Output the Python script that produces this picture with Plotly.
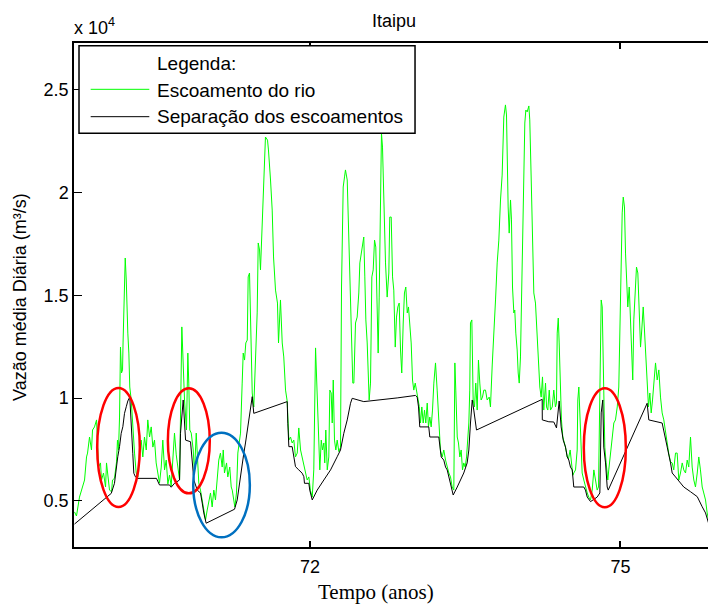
import plotly.graph_objects as go

# Daily flow at Itaipu (m³/s) and the baseflow separation, time in years
flow_t = [
    69.725, 69.744, 69.773, 69.793, 69.822, 69.841, 69.851, 69.870, 69.889, 69.899,
    69.918, 69.938, 69.947, 69.957, 69.976, 69.986, 70.005, 70.025, 70.034, 70.044,
    70.063, 70.083, 70.092, 70.111, 70.131, 70.140, 70.150, 70.160, 70.169, 70.179,
    70.189, 70.194, 70.198, 70.208, 70.215, 70.225, 70.234, 70.240, 70.250, 70.259,
    70.273, 70.288, 70.305, 70.321, 70.337, 70.353, 70.369, 70.385, 70.401, 70.418,
    70.433, 70.450, 70.466, 70.482, 70.498, 70.514, 70.530, 70.546, 70.563, 70.578,
    70.595, 70.611, 70.627, 70.643, 70.659, 70.675, 70.691, 70.708, 70.723, 70.740,
    70.762, 70.775, 70.788, 70.807, 70.820, 70.829, 70.839, 70.853, 70.872, 70.884,
    70.901, 70.911, 70.926, 70.942, 70.959, 70.974, 70.991, 71.007, 71.023, 71.039,
    71.055, 71.071, 71.087, 71.104, 71.119, 71.135, 71.152, 71.162, 71.174, 71.194,
    71.206, 71.225, 71.239, 71.249, 71.264, 71.274, 71.290, 71.303, 71.316, 71.329,
    71.345, 71.355, 71.368, 71.380, 71.394, 71.403, 71.416, 71.426, 71.435, 71.442,
    71.457, 71.474, 71.490, 71.500, 71.513, 71.522, 71.539, 71.551, 71.570, 71.590,
    71.599, 71.619, 71.635, 71.648, 71.667, 71.686, 71.696, 71.715, 71.732, 71.747,
    71.764, 71.780, 71.796, 71.812, 71.828, 71.844, 71.860, 71.877, 71.892, 71.909,
    71.925, 71.941, 71.957, 71.973, 71.989, 72.005, 72.022, 72.037, 72.054, 72.063,
    72.076, 72.085, 72.095, 72.109, 72.121, 72.134, 72.143, 72.153, 72.167, 72.182,
    72.192, 72.205, 72.215, 72.225, 72.237, 72.250, 72.263, 72.279, 72.295, 72.305,
    72.321, 72.334, 72.343, 72.360, 72.370, 72.382, 72.392, 72.401, 72.414, 72.424,
    72.440, 72.456, 72.472, 72.482, 72.495, 72.508, 72.520, 72.530, 72.540, 72.553,
    72.563, 72.572, 72.585, 72.598, 72.611, 72.624, 72.636, 72.650, 72.659, 72.669,
    72.682, 72.691, 72.701, 72.714, 72.730, 72.746, 72.762, 72.771, 72.785, 72.798,
    72.810, 72.824, 72.836, 72.849, 72.862, 72.875, 72.887, 72.901, 72.913, 72.926,
    72.940, 72.952, 72.965, 72.978, 72.991, 73.003, 73.017, 73.029, 73.042, 73.056,
    73.068, 73.081, 73.094, 73.107, 73.119, 73.133, 73.145, 73.158, 73.171, 73.184,
    73.197, 73.213, 73.229, 73.245, 73.261, 73.278, 73.293, 73.310, 73.326, 73.342,
    73.358, 73.374, 73.390, 73.400, 73.409, 73.423, 73.435, 73.448, 73.461, 73.474,
    73.486, 73.500, 73.513, 73.519, 73.535, 73.544, 73.551, 73.564, 73.577, 73.590,
    73.602, 73.616, 73.628, 73.641, 73.654, 73.667, 73.680, 73.696, 73.712, 73.732,
    73.744, 73.761, 73.776, 73.793, 73.809, 73.825, 73.841, 73.857, 73.873, 73.889,
    73.899, 73.906, 73.915, 73.925, 73.938, 73.947, 73.957, 73.970, 73.979, 73.989,
    74.002, 74.012, 74.022, 74.034, 74.044, 74.054, 74.066, 74.076, 74.086, 74.099,
    74.115, 74.124, 74.138, 74.150, 74.163, 74.179, 74.196, 74.208, 74.221, 74.234,
    74.247, 74.259, 74.276, 74.286, 74.298, 74.312, 74.324, 74.341, 74.356, 74.372,
    74.382, 74.389, 74.399, 74.408, 74.421, 74.430, 74.443, 74.453, 74.469, 74.486,
    74.498, 74.514, 74.527, 74.540, 74.549, 74.566, 74.582, 74.588, 74.598, 74.614,
    74.630, 74.646, 74.662, 74.679, 74.694, 74.711, 74.727, 74.743, 74.759, 74.775,
    74.788, 74.801, 74.814, 74.824, 74.836, 74.849, 74.862, 74.878, 74.887, 74.904,
    74.920, 74.936, 74.952, 74.969, 74.984, 74.994, 75.007, 75.017, 75.027, 75.039,
    75.049, 75.058, 75.071, 75.085, 75.097, 75.110, 75.119, 75.129, 75.143, 75.155,
    75.168, 75.181, 75.194, 75.206, 75.220, 75.232, 75.245, 75.258, 75.271, 75.284,
    75.297, 75.310, 75.322, 75.339, 75.355, 75.371, 75.387, 75.403, 75.419, 75.435,
    75.452, 75.467, 75.484, 75.500, 75.515, 75.532, 75.548, 75.564, 75.580, 75.597,
    75.612, 75.629, 75.645, 75.660, 75.677, 75.693, 75.709, 75.725, 75.742, 75.757,
    75.773, 75.790, 75.805, 75.822, 75.838, 75.851,
]
flow_q = [
    4470, 4270, 5190, 5530, 6020, 7140, 7330, 8110, 7480, 8450,
    8600, 8940, 7620, 6650, 6850, 6020, 6360, 5680, 6850, 6360,
    5530, 5450, 6020, 6100, 6900, 7960, 7480, 9080, 12480, 11220,
    11370, 12680, 13650, 15600, 16810, 15740, 13460, 13160, 12190, 10540,
    9910, 8600, 7330, 6360, 6170, 7330, 7960, 7140, 8110, 7480,
    8940, 8110, 8600, 7620, 7960, 6850, 6360, 5870, 6650, 7960,
    6510, 6990, 5830, 6260, 5730, 6990, 8300, 7240, 6510, 6020,
    13460, 11220, 9910, 8450, 12190, 10730, 8450, 8300, 7480, 6360,
    8300, 7330, 5870, 5530, 5050, 4560, 4080, 4560, 5050, 5390,
    4710, 5530, 5050, 6360, 6990, 7330, 6650, 7480, 6360, 6850,
    6170, 6650, 5680, 5530, 5050, 4710, 5390, 7330, 7820, 8300,
    10730, 12190, 11850, 12680, 12820, 15890, 16080, 14140, 12680, 10250,
    9570, 12190, 14140, 17540, 17200, 16230, 18660, 20600, 22690, 22540,
    22060, 20600, 19140, 16860, 15250, 14620, 12680, 14770, 12680, 12000,
    10390, 9850, 7960, 8110, 7820, 7960, 7140, 7330, 8550, 7480,
    7140, 6650, 6360, 6020, 6170, 5500, 5190, 6510, 12440, 11220,
    9280, 7960, 6510, 7960, 7480, 7820, 6850, 8450, 6510, 7140,
    10390, 10250, 8790, 10880, 7960, 7480, 7960, 7400, 7600, 15400,
    20260, 20750, 21090, 20600, 18800, 17340, 14280, 13650, 10730, 10730,
    13650, 13940, 15110, 16570, 17050, 17340, 17830, 15890, 13800, 12680,
    11510, 9910, 10730, 15890, 16230, 17680, 17340, 13650, 12190, 14910,
    21230, 22880, 22200, 19630, 16570, 14910, 16080, 18800, 18800, 15890,
    15250, 12480, 13940, 14430, 14620, 12340, 11220, 13650, 15110, 15400,
    14140, 14430, 13310, 12680, 10880, 10390, 10730, 10390, 10050, 9600,
    8790, 9570, 8790, 9420, 8790, 9760, 8600, 9080, 8600, 9420,
    10730, 11710, 10390, 8790, 7450, 7140, 7480, 6990, 6650, 6360,
    6170, 5680, 5530, 11710, 10390, 8110, 7820, 7140, 7480, 6510,
    6850, 6650, 7140, 7480, 8790, 10390, 13650, 13800, 9910, 9570,
    10730, 9420, 11850, 10730, 9910, 10050, 10390, 10390, 9910, 10050,
    9570, 11610, 12820, 14770, 16570, 17680, 19630, 20840, 23660, 24250,
    23760, 20600, 19290, 18020, 19630, 18660, 15400, 14140, 14280, 13160,
    12340, 11220, 10730, 12000, 14910, 16860, 20940, 23370, 24000, 23910,
    24200, 23520, 20600, 17340, 15110, 14620, 12820, 11510, 10540, 10050,
    11030, 9420, 10730, 9570, 9420, 10390, 9420, 9570, 10390, 9570,
    9760, 13160, 13890, 12680, 9420, 8940, 8110, 7960, 7620, 7140,
    7050, 7480, 6650, 6250, 6360, 6510, 7480, 9910, 10540, 8450,
    6360, 6020, 5680, 5390, 5190, 5050, 5530, 6510, 6020, 5530,
    5680, 11220, 14770, 14430, 10880, 7620, 6850, 6020, 6510, 7330,
    7960, 8790, 8940, 9570, 10540, 13310, 15740, 19000, 19770, 19290,
    17050, 15740, 14430, 15400, 13800, 12480, 10880, 13800, 14910, 16370,
    16080, 14140, 12480, 13310, 14430, 13310, 12000, 10880, 9570, 10250,
    9280, 9910, 10880, 11710, 10880, 11370, 10050, 9280, 8940, 8300,
    7620, 7300, 6900, 6850, 6510, 7330, 7330, 6020, 6360, 6850,
    6510, 6360, 6990, 6650, 8110, 6650, 6020, 5680, 6360, 7140,
    6510, 5680, 5390, 5050, 4420, 4080,
]

base_t = [
    69.725, 70.080, 70.111, 70.128, 70.143, 70.160, 70.176, 70.192, 70.208, 70.225,
    70.240, 70.259, 70.269, 70.279, 70.288, 70.298, 70.314, 70.331, 70.517, 70.546,
    70.643, 70.659, 70.691, 70.740, 70.749, 70.775, 70.798, 70.846, 70.862, 70.878,
    70.911, 70.942, 70.959, 70.974, 70.997, 71.271, 71.297, 71.312, 71.329, 71.345,
    71.361, 71.377, 71.394, 71.409, 71.426, 71.442, 71.457, 71.780, 71.786, 71.790,
    71.796, 71.828, 71.844, 71.860, 71.892, 71.925, 71.941, 71.947, 71.989, 71.998,
    72.022, 72.070, 72.134, 72.199, 72.263, 72.295, 72.327, 72.360, 72.392, 72.408,
    72.520, 72.682, 72.843, 73.020, 73.036, 73.049, 73.061, 73.148, 73.158, 73.245,
    73.255, 73.268, 73.293, 73.310, 73.326, 73.342, 73.358, 73.374, 73.384, 73.423,
    73.455, 73.486, 73.519, 73.535, 73.551, 73.568, 73.583, 73.600, 73.609, 74.244,
    74.245, 74.308, 74.356, 74.382, 74.408, 74.427, 74.447, 74.469, 74.486, 74.501,
    74.517, 74.534, 74.549, 74.646, 74.662, 74.679, 74.711, 74.775, 74.801, 74.814,
    74.829, 74.839, 74.856, 74.872, 74.882, 75.258, 75.274, 75.403, 75.419, 75.452,
    75.484, 75.500, 75.532, 75.580, 75.612, 75.677, 75.742, 75.790, 75.822, 75.851,
]
base_q = [
    3880, 5370, 5860, 6670, 7150, 7640, 8290, 8610, 9260, 9580,
    9860, 10050, 9260, 8290, 7320, 6350, 6170, 6100, 6100, 5780,
    5780, 5670, 5860, 6020, 8290, 9910, 7960, 7880, 6850, 6020,
    5530, 5390, 4900, 4420, 3920, 4600, 5050, 5630, 6180, 6850,
    7330, 7820, 8450, 8940, 9420, 10070, 9260, 9830, 8780, 7960,
    7640, 7640, 7150, 6670, 6510, 6350, 6180, 5860, 5860, 5530,
    5050, 5530, 6020, 6510, 7150, 7480, 8290, 8940, 9750, 9990,
    9830, 9910, 10010, 10130, 10050, 9570, 8600, 8600, 8110, 8110,
    7620, 7140, 6990, 6650, 6510, 6170, 5870, 5390, 5290, 5680,
    6020, 6360, 6850, 7480, 8790, 9910, 9420, 8600, 8450, 9940,
    8940, 8850, 8840, 8550, 9860, 8600, 7960, 7620, 7140, 6990,
    6650, 6510, 5680, 5680, 5530, 5190, 4970, 5190, 5390, 9280,
    9910, 7620, 6850, 5680, 5530, 9750, 8940, 8790, 8450, 7620,
    6850, 6360, 6170, 5870, 5680, 5450, 5210, 4720, 4420, 3930,
]

# Axis ticks
x_ticks = [72, 75]
x_tick_labels = ["72", "75"]
y_ticks = [5000, 10000, 15000, 20000, 25000]
y_tick_labels = ["0.5", "1", "1.5", "2", "2.5"]

# Highlighted periods: (t0, t1, q0, q1, colour)
highlights = [
    (69.944, 70.356, 4708, 10492, "#ff0000"),
    (70.627, 71.032, 5374, 10477, "#ff0000"),
    (70.872, 71.419, 3236, 8319, "#0070c0"),
    (74.646, 75.052, 4694, 10477, "#ff0000"),
]

FONT = "Liberation Sans, Arial, sans-serif"

fig = go.Figure()
fig.add_trace(go.Scatter(x=flow_t, y=flow_q, mode="lines",
                         line=dict(color="#00ff00", width=1),
                         name="Escoamento do rio", showlegend=False))
fig.add_trace(go.Scatter(x=base_t, y=base_q, mode="lines",
                         line=dict(color="#000000", width=1),
                         name="Separação dos escoamentos", showlegend=False))

shapes = []
for t0, t1, q0, q1, col in highlights:
    shapes.append(dict(type="circle", xref="x", yref="y", x0=t0, x1=t1, y0=q0, y1=q1,
                       line=dict(color=col, width=2.5), layer="above"))

# Legend box drawn by hand
shapes.append(dict(type="rect", xref="paper", yref="paper", x0=0.0079, x1=0.5379,
                   y0=0.8208, y1=0.9946, line=dict(color="black", width=1.5),
                   fillcolor="white", layer="above"))
shapes.append(dict(type="line", xref="paper", yref="paper", x0=0.0263, x1=0.1188,
                   y0=0.9081, y1=0.9081, line=dict(color="#00ff00", width=1), layer="above"))
shapes.append(dict(type="line", xref="paper", yref="paper", x0=0.0263, x1=0.1188,
                   y0=0.8538, y1=0.8538, line=dict(color="#000000", width=1), layer="above"))

legend_font = dict(family=FONT, size=19, color="black")
annotations = [
    dict(text="Legenda:", xref="paper", yref="paper", x=0.1285, y=0.9603,
         xanchor="left", yanchor="middle", showarrow=False, font=legend_font),
    dict(text="Escoamento do rio", xref="paper", yref="paper", x=0.1285, y=0.9067,
         xanchor="left", yanchor="middle", showarrow=False, font=legend_font),
    dict(text="Separação dos escoamentos", xref="paper", yref="paper", x=0.1285, y=0.8532,
         xanchor="left", yanchor="middle", showarrow=False, font=legend_font),
    dict(text="Itaipu", xref="paper", yref="paper", x=0.504, y=1.0437,
         xanchor="center", yanchor="middle", showarrow=False,
         font=dict(family=FONT, size=18, color="black")),
    dict(text="x 10<sup>4</sup>", xref="paper", yref="paper", x=-0.003, y=1.032,
         xanchor="left", yanchor="middle", showarrow=False,
         font=dict(family=FONT, size=18, color="black")),
    dict(text="Vazão média Diária (m³/s)", xref="paper", yref="paper", x=-0.0852, y=0.496,
         xanchor="center", yanchor="middle", textangle=-90, showarrow=False,
         font=dict(family=FONT, size=18, color="black")),
    dict(text="Tempo (anos)", xref="paper", yref="paper", x=0.476, y=-0.089,
         xanchor="center", yanchor="middle", showarrow=False,
         font=dict(family="Liberation Serif, Times New Roman, serif", size=21, color="black")),
]

fig.update_layout(
    width=708, height=604,
    margin=dict(l=74, r=0, t=43, b=57),
    paper_bgcolor="white", plot_bgcolor="white",
    font=dict(family=FONT, size=18, color="black"),
    shapes=shapes, annotations=annotations,
    showlegend=False,
)
fig.update_xaxes(range=[69.720, 75.846], tickvals=x_ticks, ticktext=x_tick_labels,
                 ticks="inside", ticklen=6, tickwidth=1.5, tickcolor="black",
                 ticklabelstandoff=3,
                 showline=True, linecolor="black", linewidth=1.5, mirror="ticks",
                 showgrid=False, zeroline=False, tickfont=dict(family=FONT, size=18))
fig.update_yaxes(range=[2764, 27259], tickvals=y_ticks, ticktext=y_tick_labels,
                 ticks="inside", ticklen=8, tickwidth=1, tickcolor="black",
                 showline=True, linecolor="black", linewidth=1.5, mirror=False,
                 showgrid=False, zeroline=False, tickfont=dict(family=FONT, size=18))

fig.write_html("out.html")
